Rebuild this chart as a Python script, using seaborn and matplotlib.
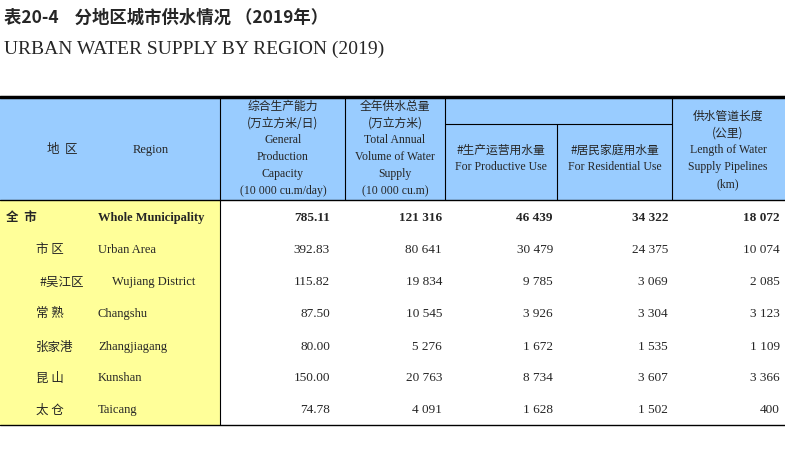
import matplotlib.pyplot as plt
import seaborn as sns
from matplotlib.patches import Rectangle

sns.set_theme(style="white")
plt.rcParams['font.family'] = ['Noto Sans CJK SC', 'DejaVu Sans']
SERIF = ['Liberation Serif', 'DejaVu Serif']
CJK = ['Noto Sans CJK SC', 'DejaVu Sans']

regions_cn = ["全  市", "市 区", "#吴江区", "常 熟", "张家港", "昆 山", "太 仓"]
regions_en = ["Whole Municipality", "Urban Area", "Wujiang District", "Changshu",
              "Zhangjiagang", "Kunshan", "Taicang"]
capacity = ["785.11", "392.83", "115.82", "87.50", "80.00", "150.00", "74.78"]
total_supply = ["121 316", "80 641", "19 834", "10 545", "5 276", "20 763", "4 091"]
productive = ["46 439", "30 479", "9 785", "3 926", "1 672", "8 734", "1 628"]
residential = ["34 322", "24 375", "3 069", "3 304", "1 535", "3 607", "1 502"]
pipelines = ["18 072", "10 074", "2 085", "3 123", "1 109", "3 366", "400"]

fig = plt.figure(figsize=(7.85, 4.59), dpi=100)
ax = fig.add_axes([0, 0, 1, 1])
ax.set_xlim(0, 785)
ax.set_ylim(459, 0)
ax.axis("off")

blue, yellow = "#99CCFF", "#FFFF99"
top, hdr, bot = 97, 200, 425
ax.add_patch(Rectangle((0, top), 785, hdr - top, color=blue, lw=0))
ax.add_patch(Rectangle((0, hdr), 220, bot - hdr, color=yellow, lw=0))

ax.plot([0, 785], [top, top], color="black", lw=2.5)
ax.plot([0, 785], [hdr, hdr], color="black", lw=1)
ax.plot([0, 785], [bot, bot], color="black", lw=1)
ax.plot([220, 220], [top, bot], color="black", lw=0.8)
for x in [345, 445, 672]:
    ax.plot([x, x], [top, hdr], color="black", lw=0.8)
ax.plot([557, 557], [124, hdr], color="black", lw=0.8)
ax.plot([445, 672], [124, 124], color="black", lw=0.8)

ax.text(4, 18, "表20-4    分地区城市供水情况 （2019年）", fontsize=12.5, fontweight="bold",
        va="center", family=CJK)
ax.text(4, 49, "URBAN WATER SUPPLY BY REGION (2019)", fontsize=14, va="center", family=SERIF)

# header
ax.text(62, 150, "地  区", fontsize=9, ha="center", va="center", family=CJK)
ax.text(151, 150, "Region", fontsize=9, ha="center", va="center", family=SERIF)
hdr_cols = [
    (283, [("综合生产能力", CJK), ("(万立方米/日)", CJK), ("General", SERIF), ("Production", SERIF),
           ("Capacity", SERIF), ("(10 000 cu.m/day)", SERIF)], 106),
    (395, [("全年供水总量", CJK), ("(万立方米)", CJK), ("Total Annual", SERIF),
           ("Volume of Water", SERIF), ("Supply", SERIF), ("(10 000 cu.m)", SERIF)], 106),
    (501, [("#生产运营用水量", CJK), ("For Productive Use", SERIF)], 150),
    (615, [("#居民家庭用水量", CJK), ("For Residential Use", SERIF)], 150),
    (728, [("供水管道长度", CJK), ("(公里)", CJK), ("Length of Water", SERIF),
           ("Supply Pipelines", SERIF), ("(km)", SERIF)], 116),
]
for cx, lines, y0 in hdr_cols:
    for i, (s, fam) in enumerate(lines):
        ax.text(cx, y0 + i * 17, s, fontsize=8.5, ha="center", va="center", family=fam)

# body
row_y = [218, 250, 282, 314, 347, 378, 410]
value_x = [330, 442, 553, 668, 780]
for i, y in enumerate(row_y):
    bold = "bold" if i == 0 else "normal"
    cn_x = 6 if i == 0 else (36 if i != 2 else 40)
    ax.text(cn_x, y, regions_cn[i], fontsize=9, va="center", fontweight=bold, family=CJK)
    en_x = 98 if i != 2 else 112
    ax.text(en_x, y, regions_en[i], fontsize=9, va="center", fontweight=bold, family=SERIF)
    for x, col in zip(value_x, [capacity, total_supply, productive, residential, pipelines]):
        ax.text(x, y, col[i], fontsize=9.5, ha="right", va="center", fontweight=bold, family=SERIF)

fig.savefig("out.png", dpi=100)
